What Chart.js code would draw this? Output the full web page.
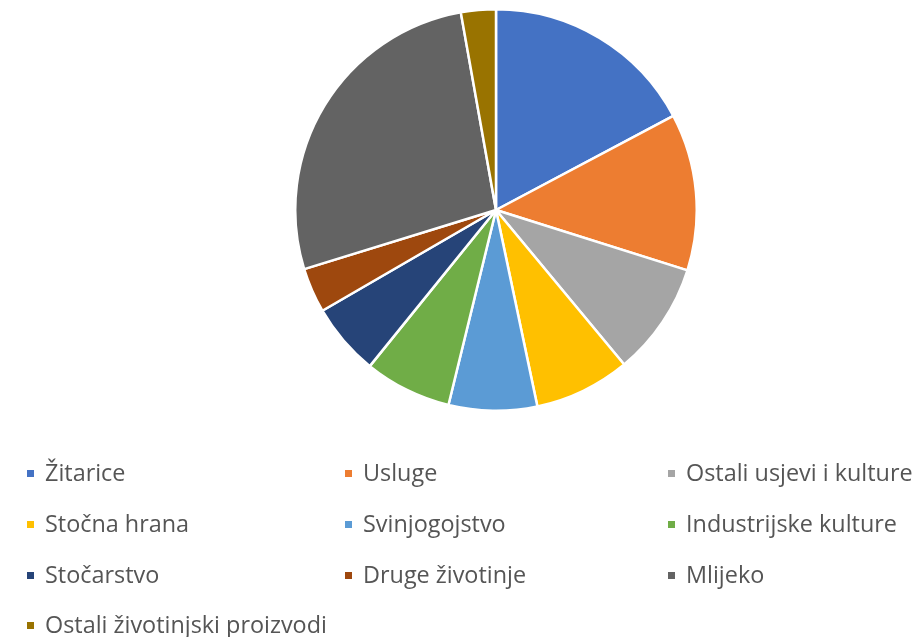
<!DOCTYPE html>
<html lang="hr">
<head>
    <meta charset="UTF-8">
    <title>Struktura proizvodnje</title>
    <style>
        body {
            margin: 0;
            width: 918px;
            height: 637px;
            background: #fff;
            font-family: "Open Sans", "Noto Sans", sans-serif;
            position: relative;
            overflow: hidden;
        }
        .pie-box {
            position: absolute;
            left: 294px;
            top: 8px;
            width: 404px;
            height: 404px;
        }
        .legend {
            position: absolute;
            left: 0;
            top: 0;
            width: 918px;
            height: 637px;
        }
        .legend-item {
            position: absolute;
            display: flex;
            align-items: center;
            color: #555555;
            font-size: 23.4px;
            line-height: 30px;
            white-space: nowrap;
        }
        .legend-item span.box {
            width: 7px;
            height: 7px;
            margin-right: 11px;
            margin-top: 2px;
        }
    </style>
</head>
<body>
    <div class="pie-box"><canvas id="pie"></canvas></div>
    <div class="legend" id="legend"></div>
    <script src="https://cdn.jsdelivr.net/npm/chart.js"></script>
    <script>
        const categories = ['Žitarice', 'Usluge', 'Ostali usjevi i kulture', 'Stočna hrana', 'Svinjogojstvo',
            'Industrijske kulture', 'Stočarstvo', 'Druge životinje', 'Mlijeko', 'Ostali životinjski proizvodi'];
        const shares = [17.2, 12.6, 9.1, 7.7, 7.1, 7.0, 5.8, 3.6, 26.9, 2.8];
        const colors = ['#4472C4', '#ED7D31', '#A5A5A5', '#FFC000', '#5B9BD5',
            '#70AD47', '#264478', '#9E480E', '#636363', '#997300'];

        new Chart(document.getElementById('pie').getContext('2d'), {
            type: 'pie',
            data: {
                labels: categories,
                datasets: [{
                    data: shares,
                    backgroundColor: colors,
                    borderColor: '#ffffff',
                    borderWidth: 2.5
                }]
            },
            options: {
                responsive: true,
                maintainAspectRatio: false,
                animation: false,
                plugins: {
                    legend: { display: false },
                    tooltip: { enabled: false }
                }
            }
        });

        // legend in three columns, like the original
        const colX = [27, 345, 668];
        const rowY = [457, 508, 559, 609];
        const legend = document.getElementById('legend');
        categories.forEach((name, i) => {
            const item = document.createElement('div');
            item.className = 'legend-item';
            item.style.left = colX[i % 3] + 'px';
            item.style.top = rowY[Math.floor(i / 3)] + 'px';
            const box = document.createElement('span');
            box.className = 'box';
            box.style.background = colors[i];
            item.appendChild(box);
            item.appendChild(document.createTextNode(name));
            legend.appendChild(item);
        });
    </script>
</body>
</html>
